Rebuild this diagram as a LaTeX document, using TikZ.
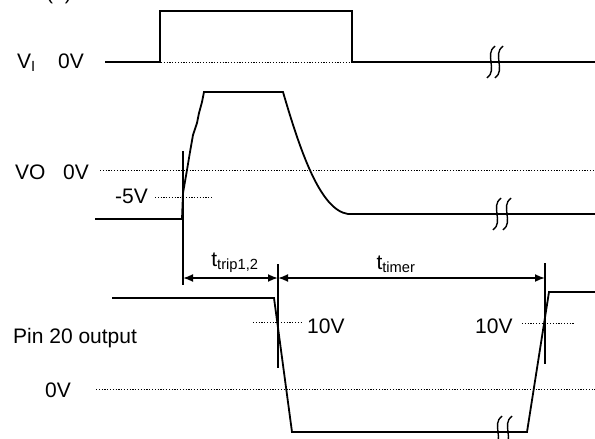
\documentclass[tikz,border=0pt]{standalone}
\usepackage{fontspec}
\setmainfont{Liberation Sans}
\usetikzlibrary{arrows.meta}
\begin{document}
\begin{tikzpicture}[x=1pt,y=-1pt,
  sig/.style={line width=1.8pt},
  refline/.style={line width=1pt, dash pattern=on 1.2pt off 1.6pt},
  lbl/.style={font=\fontsize{21}{25}\selectfont, inner sep=0pt, anchor=base west},
  dimarrow/.style={line width=1.8pt, {Latex[length=10pt,width=8pt]}-{Latex[length=10pt,width=8pt]}},
  brk/.pic={\draw[line width=1.4pt] (4,-16) .. controls (-7,-8) and (7,8) .. (-4,16);}]
\useasboundingbox (0,0) rectangle (595,439);
% partially visible caption at top
\node[lbl, anchor=base] (cap) at (59,-1) {(a)};
% ---- V_I ----
\node[lbl] (vi) at (17,68) {V\textsubscript{I}};
\node[lbl] (vi0) at (58,68) {0V};
\draw[refline] (105,62) -- (595,62);
\draw[sig] (105,62) -- (160,62) -- (160,11) -- (352,11) -- (352,62) -- (595,62);
\pic at (491,62) {brk};
\pic at (499,62) {brk};
% ---- V_O ----
\node[lbl] (vo) at (15,179) {VO};
\node[lbl] (vo0) at (63,179) {0V};
\node[lbl] (vo5) at (115,203) {-5V};
\draw[refline] (100,170) -- (595,170);
\draw[refline] (155,197) -- (212,197);
\draw[sig] (95,219) -- (182,219) -- (183,193) -- (187,170) -- (190,152) -- (193,135)
  -- (197,123) -- (199,113) -- (202,102) -- (204,92) -- (283,92)
  .. controls (300,150) and (320,210) .. (348,214) -- (595,214);
\pic at (497,214) {brk};
\pic at (507,214) {brk};
% ---- markers and timing ----
\coordinate (m1top) at (183,151);
\coordinate (m1bot) at (183,285);
\coordinate (m2top) at (278,264);
\coordinate (m2bot) at (278,368);
\coordinate (m3top) at (545,263);
\coordinate (m3bot) at (545,364);
\draw[sig] (m1top) -- (m1bot);
\draw[sig] (m2top) -- (m2bot);
\draw[sig] (m3top) -- (m3bot);
\coordinate (a1) at (183,278);
\coordinate (a2) at (278,278);
\coordinate (a3) at (545,278);
\draw[dimarrow] (a1) -- (a2);
\draw[dimarrow] (a2) -- (a3);
\node[lbl, anchor=base] (ttrip) at (235,266) {t\textsubscript{trip1,2}};
\node[lbl, anchor=base] (ttimer) at (396,269) {t\textsubscript{timer}};
% ---- Pin 20 output ----
\node[lbl] (pin) at (13,343) {Pin 20 output};
\node[lbl] (p0) at (45,397) {0V};
\node[lbl] (p10a) at (307,333) {10V};
\node[lbl] (p10b) at (475,333) {10V};
\draw[refline] (253,322) -- (302,322);
\draw[refline] (522,323) -- (575,323);
\draw[refline] (96,389) -- (595,389);
\draw[sig] (112,298) -- (274,298) -- (292,432) -- (527,432) -- (549,292) -- (595,292);
\pic at (498,432) {brk};
\pic at (508,432) {brk};
\end{tikzpicture}
\end{document}
